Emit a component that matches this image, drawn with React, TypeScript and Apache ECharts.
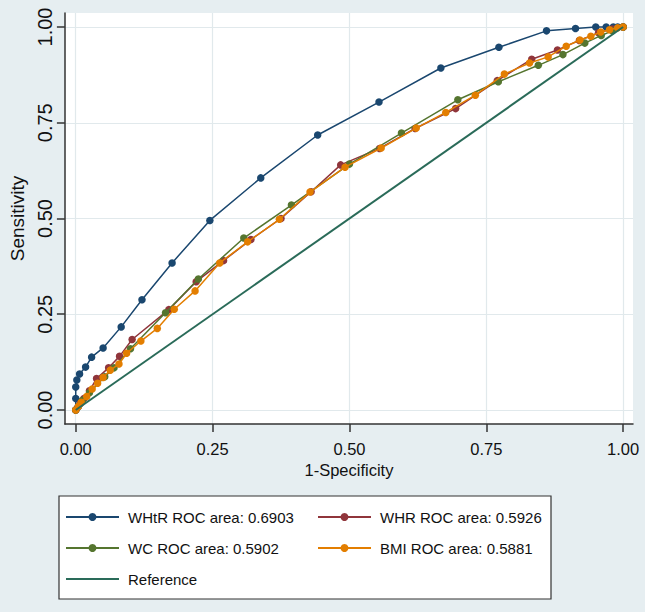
import React, { useEffect, useRef } from "react";
import * as echarts from "echarts";

const xTicks = [0, 0.25, 0.5, 0.75, 1];
const yTicks = [0, 0.25, 0.5, 0.75, 1];

const whtrX = [0, 0, 0, 0.002, 0.007, 0.018, 0.029, 0.05, 0.083, 0.121, 0.176, 0.245, 0.338, 0.442, 0.554, 0.667, 0.773, 0.86, 0.913, 0.95, 0.969, 0.982, 0.99, 1];
const whtrY = [0, 0.03, 0.06, 0.078, 0.094, 0.112, 0.138, 0.162, 0.217, 0.288, 0.384, 0.495, 0.606, 0.718, 0.804, 0.893, 0.947, 0.99, 0.996, 1, 1, 1, 1, 1];

const whrX = [0, 0.004, 0.008, 0.015, 0.025, 0.038, 0.06, 0.08, 0.103, 0.17, 0.22, 0.27, 0.32, 0.375, 0.43, 0.484, 0.555, 0.62, 0.694, 0.77, 0.833, 0.88, 0.92, 0.955, 0.98, 1];
const whrY = [0, 0.008, 0.016, 0.03, 0.05, 0.082, 0.11, 0.14, 0.184, 0.262, 0.335, 0.39, 0.445, 0.5, 0.57, 0.64, 0.683, 0.735, 0.787, 0.86, 0.916, 0.94, 0.965, 0.985, 0.995, 1];

const wcX = [0, 0.005, 0.012, 0.025, 0.053, 0.07, 0.1, 0.164, 0.224, 0.307, 0.394, 0.5, 0.595, 0.698, 0.772, 0.845, 0.89, 0.93, 0.96, 0.98, 1];
const wcY = [0, 0.01, 0.025, 0.045, 0.087, 0.11, 0.16, 0.254, 0.342, 0.449, 0.535, 0.642, 0.723, 0.81, 0.857, 0.9, 0.928, 0.958, 0.978, 0.99, 1];

const bmiX = [0, 0.005, 0.01, 0.02, 0.03, 0.04, 0.05, 0.063, 0.079, 0.093, 0.119, 0.149, 0.18, 0.218, 0.263, 0.314, 0.372, 0.428, 0.492, 0.558, 0.622, 0.676, 0.73, 0.783, 0.829, 0.863, 0.896, 0.921, 0.941, 0.959, 0.975, 0.99, 1];
const bmiY = [0, 0.01, 0.02, 0.035, 0.055, 0.07, 0.085, 0.104, 0.12, 0.148, 0.18, 0.213, 0.263, 0.311, 0.384, 0.439, 0.498, 0.569, 0.634, 0.684, 0.736, 0.777, 0.822, 0.877, 0.906, 0.922, 0.95, 0.966, 0.976, 0.987, 0.993, 0.998, 1];

const refX = [0, 1];
const refY = [0, 1];

const seriesNames = [
  "WHtR ROC area: 0.6903",
  "WHR ROC area: 0.5926",
  "WC ROC area: 0.5902",
  "BMI ROC area: 0.5881",
  "Reference",
];
const seriesColors = ["#1a476f", "#90353b", "#55752f", "#e37e00", "#2a6b59"];

const zip = (xs: number[], ys: number[]) => xs.map((x, i) => [x, ys[i]]);

const FONT = "'Liberation Sans', Arial, sans-serif";

export default function App() {
  const ref = useRef<HTMLDivElement>(null);
  useEffect(() => {
    document.body.style.margin = "0";
    if (!ref.current) return;
    const chart = echarts.init(ref.current, undefined, { renderer: "svg" });
    const dataSets = [zip(whtrX, whtrY), zip(whrX, whrY), zip(wcX, wcY), zip(bmiX, bmiY), zip(refX, refY)];
    const series: any[] = dataSets.map((d, i) => ({
      name: seriesNames[i],
      type: "line",
      data: d,
      symbol: i === 4 ? "none" : "circle",
      symbolSize: 7.5,
      showSymbol: i !== 4,
      lineStyle: { color: seriesColors[i], width: i === 4 ? 2 : 1.5 },
      itemStyle: { color: seriesColors[i] },
      z: 2 + i,
    }));
    const axisLineStyle = { color: "#333", width: 1.5 };
    const legendCommon = {
      orient: "vertical",
      top: 508,
      padding: 0,
      itemWidth: 53,
      itemHeight: 10,
      itemGap: 13,
      textStyle: { fontSize: 15, lineHeight: 18, fontFamily: FONT, color: "#111", padding: [0, 0, 0, 4] },
      z: 10,
    };
    chart.setOption({
      animation: false,
      backgroundColor: "#e6eef1",
      grid: {
        left: 56,
        top: 13,
        right: 12,
        bottom: 188,
        show: true,
        backgroundColor: "#ffffff",
        borderWidth: 0,
      },
      xAxis: {
        type: "value",
        min: -0.0198,
        max: 1.018,
        axisLine: { show: true, onZero: false, lineStyle: axisLineStyle },
        axisTick: { show: true, length: 8, customValues: xTicks, lineStyle: axisLineStyle },
        axisLabel: {
          customValues: xTicks,
          formatter: (v: number) => v.toFixed(2),
          margin: 16,
          fontSize: 16.5,
          fontFamily: FONT,
          color: "#111",
        },
        splitLine: { show: true, lineStyle: { color: "#e1e9ec", width: 1.2 } },
        name: "1-Specificity",
        nameLocation: "middle",
        nameGap: 35,
        nameTextStyle: { fontSize: 16.5, fontFamily: FONT, color: "#111" },
      },
      yAxis: {
        type: "value",
        min: -0.0366,
        max: 1.0366,
        axisLine: { show: true, onZero: false, lineStyle: axisLineStyle },
        axisTick: { show: true, length: 8, customValues: yTicks, lineStyle: axisLineStyle },
        axisLabel: {
          customValues: yTicks,
          formatter: (v: number) => v.toFixed(2),
          rotate: 90,
          margin: 10,
          fontSize: 20,
          fontFamily: FONT,
          color: "#111",
        },
        splitLine: { show: true, lineStyle: { color: "#e1e9ec", width: 1.2 } },
        name: "Sensitivity",
        nameLocation: "middle",
        nameGap: 29,
        nameTextStyle: { fontSize: 19, fontFamily: FONT, color: "#111" },
      },
      legend: [
        {
          ...legendCommon,
          data: [
            seriesNames[0],
            seriesNames[2],
            { name: seriesNames[4], itemStyle: { opacity: 0 } },
          ],
          left: 65,
        },
        { ...legendCommon, data: [seriesNames[1], seriesNames[3]], left: 317 },
      ],
      graphic: [
        {
          type: "rect",
          shape: { x: 59, y: 496, width: 492, height: 103 },
          style: { fill: "#ffffff", stroke: "#333", lineWidth: 1.2 },
          z: 1,
        },
      ],
      series,
    });
    return () => chart.dispose();
  }, []);
  return <div ref={ref} style={{ width: 645, height: 612 }} />;
}
